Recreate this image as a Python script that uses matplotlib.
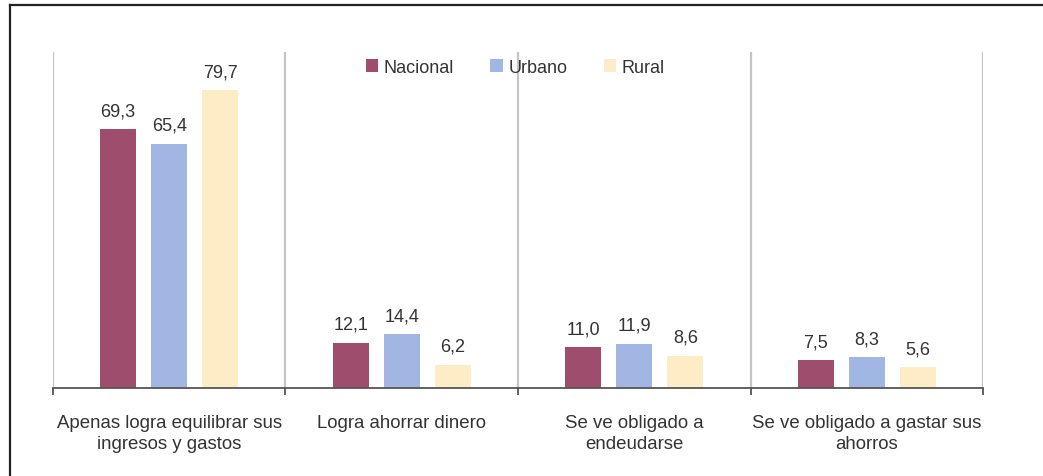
"""Grouped bars: household financial situation by area (Nacional / Urbano / Rural)."""
import matplotlib
matplotlib.use("Agg")
import matplotlib.pyplot as plt
from matplotlib.lines import Line2D
import numpy as np

CATEGORIES = [
    "Apenas logra equilibrar sus\ningresos y gastos",
    "Logra ahorrar dinero",
    "Se ve obligado a\nendeudarse",
    "Se ve obligado a gastar sus\nahorros",
]
SERIES = ["Nacional", "Urbano", "Rural"]
NACIONAL = [69.3, 12.1, 11.0, 7.5]
URBANO = [65.4, 14.4, 11.9, 8.3]
RURAL = [79.7, 6.2, 8.6, 5.6]

COLORS = ["#9f4d6c", "#a1b6e2", "#fdecc6"]
INK = "#333333"
SEP = "#c4c4c4"

plt.rcParams.update({
    "font.family": ["Liberation Sans", "DejaVu Sans"],
    "font.size": 12.5,
    "text.color": INK,
})


def main():
    fig = plt.figure(figsize=(10.43, 4.77), dpi=100)
    ax = fig.add_axes([0.0508, 0.1845, 0.8917, 0.7045])

    x = np.arange(len(CATEGORIES))
    width = 0.155
    step = 0.22
    for i, (name, vals, color) in enumerate(zip(SERIES, [NACIONAL, URBANO, RURAL], COLORS)):
        xs = x + (i - 1) * step
        ax.bar(xs, vals, width=width, color=color, label=name, zorder=3)
        for xi, v in zip(xs, vals):
            ax.annotate(f"{v:.1f}".replace(".", ","), (xi, v),
                        textcoords="offset points", xytext=(0, 10),
                        ha="center", va="baseline", fontsize=13, color=INK)

    ax.set_xlim(-0.5, len(CATEGORIES) - 0.5)
    ax.set_ylim(0, 90)

    for b in np.arange(-0.5, len(CATEGORIES), 1.0):
        ax.axvline(b, color=SEP, lw=1.6, zorder=1)

    for s in ("left", "right", "top"):
        ax.spines[s].set_visible(False)
    ax.spines["bottom"].set_color("#555555")
    ax.spines["bottom"].set_linewidth(1.3)
    ax.spines["bottom"].set_zorder(4)

    ax.set_yticks([])
    ax.set_xticks(x)
    ax.set_xticklabels(CATEGORIES, fontsize=13.4, color=INK, linespacing=1.25)
    ax.tick_params(axis="x", which="major", length=0, pad=19)
    ax.set_xticks(np.arange(-0.5, len(CATEGORIES), 1.0), minor=True)
    ax.tick_params(axis="x", which="minor", length=5, width=1.3,
                   color="#555555", direction="out")

    fig.legend(loc="center", bbox_to_anchor=(0.494, 0.857), ncol=3,
               frameon=False, handlelength=0.7, handleheight=0.7,
               handletextpad=0.3, columnspacing=2.0, fontsize=13)

    # outer frame (left and top edges only visible)
    fig.add_artist(Line2D([10 / 1043, 10 / 1043], [0, 1 - 6 / 477],
                          transform=fig.transFigure, color="#222222", lw=1.6))
    fig.add_artist(Line2D([10 / 1043, 1], [1 - 6 / 477, 1 - 6 / 477],
                          transform=fig.transFigure, color="#222222", lw=1.6))

    fig.savefig("out.png", dpi=100, facecolor="white")


if __name__ == "__main__":
    main()
